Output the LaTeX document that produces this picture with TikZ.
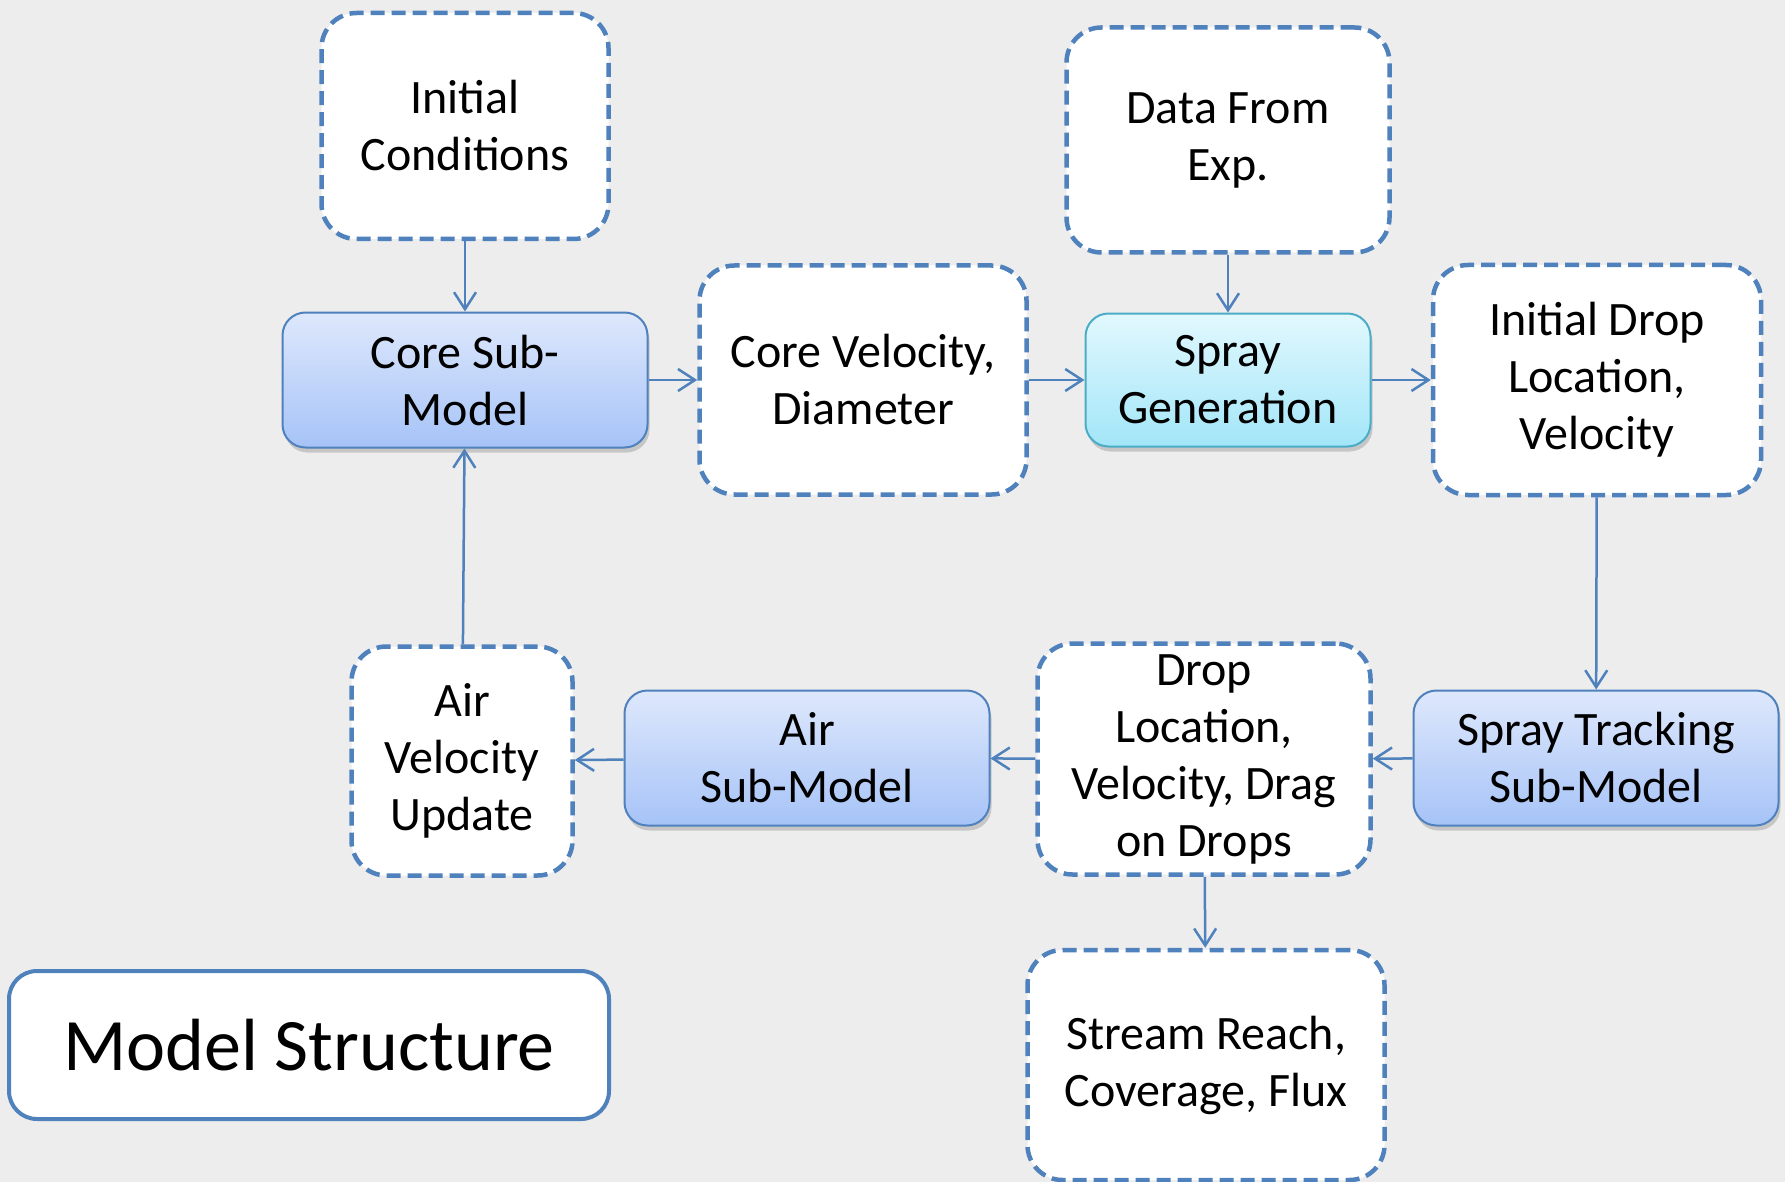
\documentclass[tikz,border=0pt]{standalone}
\usepackage{fontspec}
\setmainfont{Carlito}
\usetikzlibrary{arrows.meta,shadows}

\definecolor{edgeblue}{HTML}{4F81BD}
\definecolor{subtop}{HTML}{DEE8FC}
\definecolor{subbot}{HTML}{A6C3F7}
\definecolor{gentop}{HTML}{E2F8FE}
\definecolor{genbot}{HTML}{A2E6F8}
\definecolor{genedge}{HTML}{4BACC6}
\definecolor{backgr}{HTML}{EDEDED}

\begin{document}
\begin{tikzpicture}[x=1pt,y=-1pt,
    every node/.style={align=center,font=\fontsize{48}{57}\selectfont},
    databox/.style={draw=edgeblue,line width=4.5pt,dash pattern=on 14pt off 7pt,
        fill=white,rounded corners=35pt,inner sep=0pt},
    subbox/.style={draw=edgeblue,line width=2pt,rounded corners=23pt,
        top color=subtop,bottom color=subbot,inner sep=0pt,
        minimum width=365pt,minimum height=135pt,
        drop shadow={shadow xshift=2pt,shadow yshift=-5pt,opacity=0.35}},
    flow/.style={draw=edgeblue,line width=2.5pt,-{Straight Barb[length=17pt,width=22pt,line width=2.5pt]}}]
  % page and background
  \fill[backgr] (0,0) rectangle (1785,1182);
  \useasboundingbox (0,0) rectangle (1785,1182);

  % top row
  \node[databox,minimum width=287pt,minimum height=226pt] (init) at (465,126) {Initial\\Conditions};
  \node[subbox] (core) at (465,380) {Core Sub-\\Model};
  \node[databox,minimum width=327pt,minimum height=229pt] (corevel) at (863,380) {Core Velocity,\\Diameter};
  \node[databox,minimum width=323pt,minimum height=225pt] (exp) at (1228,140) {Data From\\Exp.};
  \node[subbox,draw=genedge,top color=gentop,bottom color=genbot,minimum width=285pt,minimum height=133pt] (gen) at (1228,380) {Spray\\Generation};
  \node[databox,minimum width=328pt,minimum height=230pt] (initdrop) at (1597,380) {Initial Drop\\Location,\\Velocity};

  % bottom row
  \node[subbox] (track) at (1596,758) {Spray Tracking\\Sub-Model};
  \node[databox,minimum width=333pt,minimum height=231pt] (drop) at (1204,759) {Drop\\Location,\\Velocity, Drag\\on Drops};
  \node[subbox] (air) at (807,758) {Air\\Sub-Model};
  \node[databox,minimum width=221pt,minimum height=229pt] (airvel) at (462,761) {Air\\Velocity\\Update};
  \node[databox,minimum width=357pt,minimum height=230pt] (reach) at (1206,1065) {Stream Reach,\\Coverage, Flux};

  % title
  \node[draw=edgeblue,line width=4pt,fill=white,rounded corners=28pt,
      minimum width=600pt,minimum height=148pt,font=\fontsize{74}{90}\selectfont] (title) at (309,1045) {Model Structure};

  % connectors
  \draw[flow] (init) -- (core);
  \draw[flow] (core) -- (corevel);
  \draw[flow] (corevel) -- (gen);
  \draw[flow] (exp) -- (gen);
  \draw[flow] (gen) -- (initdrop);
  \draw[flow] (initdrop) -- (track);
  \draw[flow] (track) -- (drop);
  \draw[flow] (drop) -- (air);
  \draw[flow] (air) -- (airvel);
  \draw[flow] (airvel) -- (core);
  \draw[flow] (drop) -- (reach);
\end{tikzpicture}
\end{document}
